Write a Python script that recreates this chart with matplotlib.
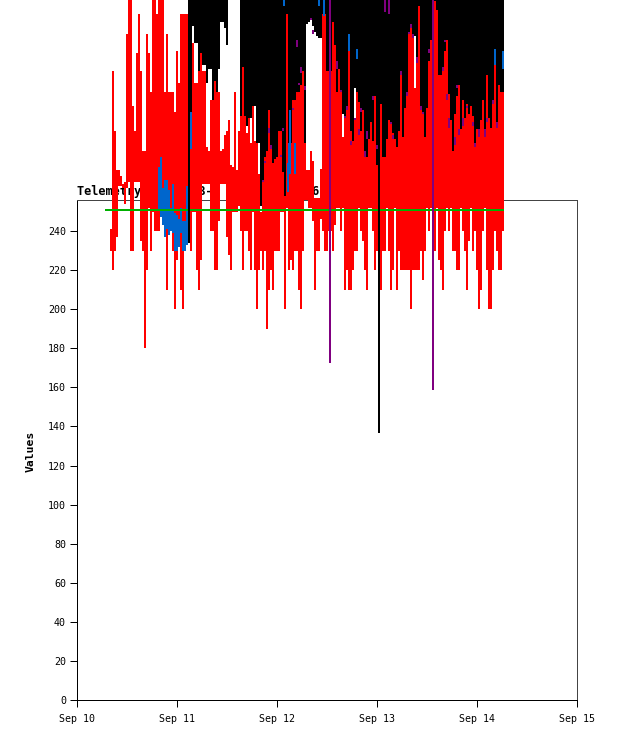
import matplotlib
matplotlib.use("Agg")
import matplotlib.pyplot as plt

# ==========================================================
# DATA (x = day of September, y = raw telemetry values)
# ==========================================================

x_ticks = [10, 11, 12, 13, 14, 15]
x_labels = ["Sep 10", "Sep 11", "Sep 12", "Sep 13", "Sep 14", "Sep 15"]
y_ticks = [0, 20, 40, 60, 80, 100, 120, 140, 160, 180, 200, 220, 240]

days = [
    10.34, 10.36, 10.38, 10.40, 10.42, 10.44, 10.46, 10.48, 10.50, 10.52,
    10.54, 10.56, 10.58, 10.60, 10.62, 10.64, 10.66, 10.68, 10.70, 10.72,
    10.74, 10.76, 10.78, 10.80, 10.82, 10.84, 10.86, 10.88, 10.90, 10.92,
    10.94, 10.96, 10.98, 11.00, 11.02, 11.04, 11.06, 11.08, 11.10, 11.12,
    11.14, 11.16, 11.18, 11.20, 11.22, 11.24, 11.26, 11.28, 11.30, 11.32,
    11.34, 11.36, 11.38, 11.40, 11.42, 11.44, 11.46, 11.48, 11.50, 11.52,
    11.54, 11.56, 11.58, 11.60, 11.62, 11.64, 11.66, 11.68, 11.70, 11.72,
    11.74, 11.76, 11.78, 11.80, 11.82, 11.84, 11.86, 11.88, 11.90, 11.92,
    11.94, 11.96, 11.98, 12.00, 12.02, 12.04, 12.06, 12.08, 12.10, 12.12,
    12.14, 12.16, 12.18, 12.20, 12.22, 12.24, 12.26, 12.28, 12.30, 12.32,
    12.34, 12.36, 12.38, 12.40, 12.42, 12.44, 12.46, 12.48, 12.50, 12.52,
    12.54, 12.56, 12.58, 12.60, 12.62, 12.64, 12.66, 12.68, 12.70, 12.72,
    12.74, 12.76, 12.78, 12.80, 12.82, 12.84, 12.86, 12.88, 12.90, 12.92,
    12.94, 12.96, 12.98, 13.00, 13.02, 13.04, 13.06, 13.08, 13.10, 13.12,
    13.14, 13.16, 13.18, 13.20, 13.22, 13.24, 13.26, 13.28, 13.30, 13.32,
    13.34, 13.36, 13.38, 13.40, 13.42, 13.44, 13.46, 13.48, 13.50, 13.52,
    13.54, 13.56, 13.58, 13.60, 13.62, 13.64, 13.66, 13.68, 13.70, 13.72,
    13.74, 13.76, 13.78, 13.80, 13.82, 13.84, 13.86, 13.88, 13.90, 13.92,
    13.94, 13.96, 13.98, 14.00, 14.02, 14.04, 14.06, 14.08, 14.10, 14.12,
    14.14, 14.16, 14.18, 14.20, 14.22, 14.24, 14.26,
]

red_low = [
    230, 220, 230, 237, 263, 263, 262, 254, 262, 265,
    230, 230, 265, 265, 265, 235, 230, 180, 220, 252,
    230, 250, 240, 240, 240, 250, 245, 245, 210, 240,
    240, 230, 200, 225, 240, 210, 200, 240, 240, 240,
    230, 250, 250, 220, 210, 225, 264, 264, 264, 264,
    240, 240, 220, 220, 245, 264, 264, 264, 237, 228,
    220, 250, 250, 250, 253, 240, 220, 240, 240, 230,
    220, 250, 220, 200, 220, 230, 220, 230, 190, 210,
    220, 210, 230, 230, 230, 250, 250, 200, 252, 220,
    225, 220, 230, 230, 210, 200, 230, 256, 256, 252,
    252, 245, 210, 230, 230, 246, 240, 230, 230, 240,
    240, 230, 243, 252, 252, 240, 252, 210, 220, 210,
    210, 220, 230, 230, 252, 240, 235, 220, 210, 252,
    252, 240, 220, 230, 230, 210, 230, 230, 252, 230,
    210, 220, 252, 210, 230, 220, 220, 220, 220, 220,
    200, 220, 220, 220, 220, 230, 215, 230, 252, 240,
    252, 240, 230, 252, 225, 220, 210, 240, 252, 240,
    252, 230, 230, 220, 220, 252, 240, 230, 210, 235,
    252, 230, 240, 220, 200, 210, 240, 252, 220, 200,
    200, 220, 240, 230, 220, 220, 240,
]

red_high = [
    241, 322, 291, 271, 271, 268, 264, 265, 341, 370,
    370, 304, 291, 331, 351, 322, 281, 281, 341, 331,
    311, 370, 370, 351, 370, 370, 370, 311, 341, 311,
    311, 311, 301, 332, 316, 351, 351, 351, 351, 288,
    288, 336, 316, 316, 322, 331, 322, 322, 283, 281,
    307, 307, 317, 311, 311, 281, 282, 289, 291, 297,
    274, 273, 311, 271, 291, 299, 324, 299, 290, 298,
    285, 304, 286, 285, 269, 250, 265, 278, 281, 302,
    282, 275, 277, 278, 291, 291, 270, 258, 351, 269,
    285, 307, 307, 311, 311, 315, 322, 285, 271, 271,
    281, 276, 257, 257, 257, 272, 351, 351, 322, 322,
    322, 347, 335, 311, 323, 312, 288, 299, 303, 332,
    291, 286, 298, 311, 306, 291, 302, 281, 278, 287,
    296, 286, 309, 274, 282, 305, 278, 278, 287, 297,
    295, 290, 287, 283, 291, 321, 288, 303, 309, 342,
    346, 340, 313, 327, 355, 303, 301, 288, 303, 327,
    338, 358, 358, 353, 320, 320, 322, 332, 338, 310,
    297, 281, 300, 309, 315, 292, 307, 298, 305, 300,
    304, 299, 283, 292, 288, 297, 307, 288, 320, 298,
    293, 305, 325, 293, 315, 311, 311,
]

# black starts at the 40th sample, None = no black bar there
black_low = [
    298, 298, 345, 336, 336, 298, 331, 325, 325, 316,
    323, 323, 307, 317, 299, 323, 347, 347, 344, 335,
    None, None, None, None, None, 360, 299, 324, 294, 294,
    287, 298, 274, 304, 269, 285, 253, 265, 278, 281,
    302, 282, 275, 277, 278, 291, 291, 270, 258, 275,
    269, 285, 305, 307, 311, 311, 315, 322, 285, 346,
    347, 349, 345, 342, 340, 339, 339, 339, 339, 322,
    322, 322, 345, 335, 311, 323, 312, 300, 299, 303,
    332, 291, 286, 313, 311, 306, 291, 302, 281, 278,
    287, 296, 286, 309, 274, 282, 305, 278, 278, 287,
    297, 295, 290, 287, 283, 291, 321, 288, 303, 309,
    342, 346, 340, 340, 327, 355, 303, 301, 288, 303,
    327, 338, 358, 358, 353, 320, 320, 322, 332, 338,
    310, 297, 281, 300, 309, 315, 292, 307, 298, 305,
    300, 304, 299, 283, 292, 288, 297, 307, 288, 320,
    298, 293, 305, 325, 293, 315, 311, 311,
]
black_days = days[39:]

blue_days = [
    10.82, 10.84, 10.86, 10.88, 10.90, 10.92, 10.94, 10.96, 10.98, 11.00,
    11.02, 11.04, 11.06, 11.08, 11.10, 11.12, 11.12, 11.14, 12.12, 12.07,
    12.11, 12.13, 12.18, 12.47, 12.42, 12.72, 12.80, 14.18, 14.26,
]
blue_low = [
    251, 247, 243, 237, 241, 238, 240, 239, 230, 230,
    232, 239, 230, 230, 233, 238, 350, 282, 269, 355,
    260, 269, 269, 350, 355, 332, 328, 325, 323,
]
blue_high = [
    273, 278, 262, 266, 266, 261, 252, 264, 249, 248,
    246, 252, 245, 245, 263, 270, 370, 301, 285, 370,
    275, 302, 285, 370, 370, 341, 333, 333, 332,
]

# little purple caps on top of the red bars
cap_days = [
    11.86, 11.88, 11.92, 11.94, 12.04, 12.06, 12.16, 12.20, 12.22, 12.24,
    12.28, 12.34, 12.36, 12.60, 12.64, 12.68, 12.70, 12.74, 12.78, 12.82,
    12.84, 12.88, 12.90, 12.96, 13.00, 13.02, 13.08, 13.12, 13.14, 13.16,
    13.24, 13.30, 13.32, 13.34, 13.36, 13.40, 13.44, 13.46, 13.52, 13.66,
    13.68, 13.70, 13.72, 13.78, 13.80, 13.82, 13.86, 13.90, 13.96, 13.98,
    14.02, 14.08, 14.10, 14.16, 14.20,
]
cap_low = [
    265, 275, 290, 282, 278, 291, 302, 334, 315, 321,
    312, 348, 341, 323, 311, 298, 302, 284, 297, 289,
    301, 278, 287, 307, 282, 345, 352, 351, 295, 287,
    320, 309, 341, 344, 339, 326, 302, 300, 331, 322,
    337, 307, 293, 284, 313, 289, 294, 303, 294, 283,
    288, 288, 296, 305, 293,
]
cap_high = [
    266, 276, 293, 284, 279, 293, 303, 338, 316, 324,
    314, 349, 343, 327, 312, 299, 304, 286, 298, 292,
    303, 281, 291, 309, 284, 370, 370, 370, 296, 289,
    322, 311, 342, 346, 341, 329, 304, 301, 333, 324,
    338, 310, 298, 288, 315, 292, 298, 304, 296, 285,
    292, 292, 298, 307, 296,
]

# long spikes that run over everything
spike_days = [11.12, 12.53, 13.02, 13.56]
spike_low = [234, 172.5, 136.6, 158.6]
spike_colors = ["#000000", "#800080", "#000000", "#800080"]
spike_top = 370

limit_value = 250.8
limit_start = 10.28
limit_end = 14.27

y_max = 255.9

RED = "#ff0000"
BLUE = "#0066cc"
PURPLE = "#800080"
GREEN = "#00b000"
BAR_W = 1.44  # 2 px at dpi 100

# ==========================================================
# FIGURE
# ==========================================================

plt.rcParams["font.family"] = ["DejaVu Sans Mono"]

fig = plt.figure(figsize=(6.18, 7.41), dpi=100)
ax = fig.add_axes([77 / 618, 41 / 741, 500 / 618, 500 / 741])
ax.set_xlim(10, 15)
ax.set_ylim(0, y_max)


def bars(x, low, high, color, z):
    lines = ax.vlines(x, low, high, colors=color, linewidth=BAR_W, zorder=z,
                      clip_on=False, capstyle="butt")
    lines.set_snap(True)


black_x = [d for d, v in zip(black_days, black_low) if v is not None]
black_y = [v for v in black_low if v is not None]

bars(black_x, black_y, spike_top, "#000000", 3)
bars(days, red_low, red_high, RED, 4)
bars(cap_days, cap_low, cap_high, PURPLE, 5)
bars(blue_days, blue_low, blue_high, BLUE, 6)

limit = ax.hlines(limit_value, limit_start, limit_end, colors=GREEN,
                  linewidth=BAR_W, zorder=7, clip_on=False)
limit.set_snap(True)

bars(spike_days, spike_low, spike_top, spike_colors, 8)

# axes frame and title stay behind the bars
for side, spine in ax.spines.items():
    spine.set_zorder(1)
    spine.set_linewidth(0.72)
    spine.set_color("#000000" if side in ("left", "bottom") else "#444444")

ax.set_xticks(x_ticks)
ax.set_xticklabels(x_labels)
ax.set_yticks(y_ticks)
ax.tick_params(length=5, width=0.72, labelsize=7.2, pad=3)
ax.tick_params(axis="x", pad=5)

# most of the title is hidden by the bars, only these pieces can be read
ax.text(0, 1.004, "Telemetry        B-2             6         S",
        transform=ax.transAxes, fontsize=8.6, fontweight="bold",
        ha="left", va="bottom", zorder=2, clip_on=False)

fig.text(31 / 618, 1 - 451 / 741, "Values", rotation=90, fontsize=8.2,
         fontweight="bold", ha="center", va="center")

fig.savefig("out.png", dpi=100)
